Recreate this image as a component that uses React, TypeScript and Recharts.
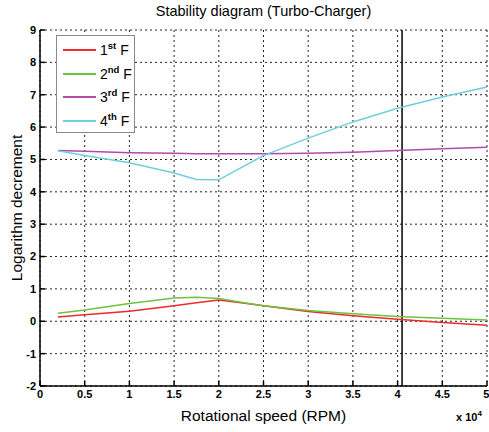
import React from "react";
import {
  CartesianGrid,
  Line,
  LineChart,
  ReferenceLine,
  XAxis,
  YAxis,
} from "recharts";

// rotational speed samples (RPM)
const rpm = [2000, 5000, 10000, 15000, 17500, 20000, 22500, 25000, 30000, 35000, 40000, 45000, 50000];
// logarithmic decrement per mode
const f1 = [0.13, 0.2, 0.31, 0.48, 0.57, 0.66, 0.57, 0.48, 0.3, 0.17, 0.06, -0.04, -0.12];
const f2 = [0.25, 0.35, 0.55, 0.72, 0.74, 0.7, 0.59, 0.48, 0.33, 0.23, 0.15, 0.09, 0.04];
const f3 = [5.28, 5.25, 5.21, 5.19, 5.18, 5.18, 5.18, 5.18, 5.19, 5.22, 5.28, 5.33, 5.38];
const f4 = [5.27, 5.12, 4.9, 4.58, 4.38, 4.37, 4.75, 5.12, 5.66, 6.16, 6.58, 6.93, 7.24];

const xTicks = [0, 5000, 10000, 15000, 20000, 25000, 30000, 35000, 40000, 45000, 50000];
const yTicks = [-2, -1, 0, 1, 2, 3, 4, 5, 6, 7, 8, 9];
const operatingSpeed = 40500;

const series = [
  { key: "f1", color: "#ee2a2a", base: "1", sup: "st" },
  { key: "f2", color: "#6cc340", base: "2", sup: "nd" },
  { key: "f3", color: "#b24aaa", base: "3", sup: "rd" },
  { key: "f4", color: "#6dcfdc", base: "4", sup: "th" },
];

const data = rpm.map((x, i) => ({ x, f1: f1[i], f2: f2[i], f3: f3[i], f4: f4[i] }));

const FONT = "'Liberation Sans', Arial, sans-serif";
const tickStyle = { fill: "#000", fontSize: 11, fontWeight: 700, fontFamily: FONT };

export default function App() {
  return (
    <div style={{ position: "absolute", left: 0, top: 0, width: 489, height: 432, background: "#fff", fontFamily: FONT }}>
      <div style={{ position: "absolute", top: 3, left: 40, width: 447, textAlign: "center", fontSize: 14.5 }}>
        Stability diagram (Turbo-Charger)
      </div>
      <LineChart width={489} height={432} data={data} margin={{ top: 30, right: 2, bottom: 0, left: 0 }}>
        <CartesianGrid stroke="#222" strokeDasharray="2 3" />
        <XAxis
          dataKey="x"
          type="number"
          domain={[0, 50000]}
          ticks={xTicks}
          tickFormatter={(v: number) => String(v / 10000)}
          height={46}
          tickSize={-5}
          tickMargin={9}
          tick={tickStyle}
          stroke="#000"
          strokeWidth={1.5}
          label={{ value: "Rotational speed (RPM)", position: "insideBottom", offset: 11, fill: "#000", fontSize: 15.5, fontFamily: FONT }}
        />
        <XAxis xAxisId="top" dataKey="x" type="number" orientation="top" domain={[0, 50000]} ticks={xTicks} height={0} tickSize={-5} tick={false} stroke="#000" strokeWidth={1.5} />
        <YAxis
          type="number"
          domain={[-2, 9]}
          ticks={yTicks}
          width={40}
          tickSize={-5}
          tickMargin={9}
          tick={tickStyle}
          stroke="#000"
          strokeWidth={1.5}
          label={{ value: "Logarithm decrement", angle: -90, position: "center", dx: -4, fill: "#000", fontSize: 15.5, fontFamily: FONT }}
        />
        <YAxis yAxisId="right" orientation="right" type="number" domain={[-2, 9]} ticks={yTicks} width={0} tickSize={-5} tick={false} stroke="#000" strokeWidth={1.5} />
        <ReferenceLine x={operatingSpeed} stroke="#000" strokeWidth={1.5} />
        {series.map((s) => (
          <Line
            key={s.key}
            type="linear"
            dataKey={s.key}
            stroke={s.color}
            strokeWidth={1.5}
            dot={false}
            isAnimationActive={false}
          />
        ))}
      </LineChart>
      <div
        style={{
          position: "absolute",
          left: 56,
          top: 35,
          width: 77,
          height: 96,
          background: "#fff",
          border: "1px solid #888",
        }}
      >
        {series.map((s, i) => (
          <div key={s.key} style={{ position: "absolute", left: 0, top: 5 + i * 23.5, height: 18, width: 77 }}>
            <div style={{ position: "absolute", left: 6, top: 8, width: 33, height: 2, background: s.color }} />
            <div style={{ position: "absolute", left: 43, top: 0, fontSize: 14, whiteSpace: "nowrap", lineHeight: "18px" }}>
              {s.base}
              <sup style={{ fontSize: 9.5, fontWeight: 700, verticalAlign: "6px", lineHeight: 0 }}>{s.sup}</sup> F
            </div>
          </div>
        ))}
      </div>
      <div style={{ position: "absolute", left: 456, top: 411, fontSize: 11, fontWeight: 700, whiteSpace: "nowrap" }}>
        x 10<sup style={{ fontSize: 8, verticalAlign: "5px", lineHeight: 0 }}>4</sup>
      </div>
    </div>
  );
}
